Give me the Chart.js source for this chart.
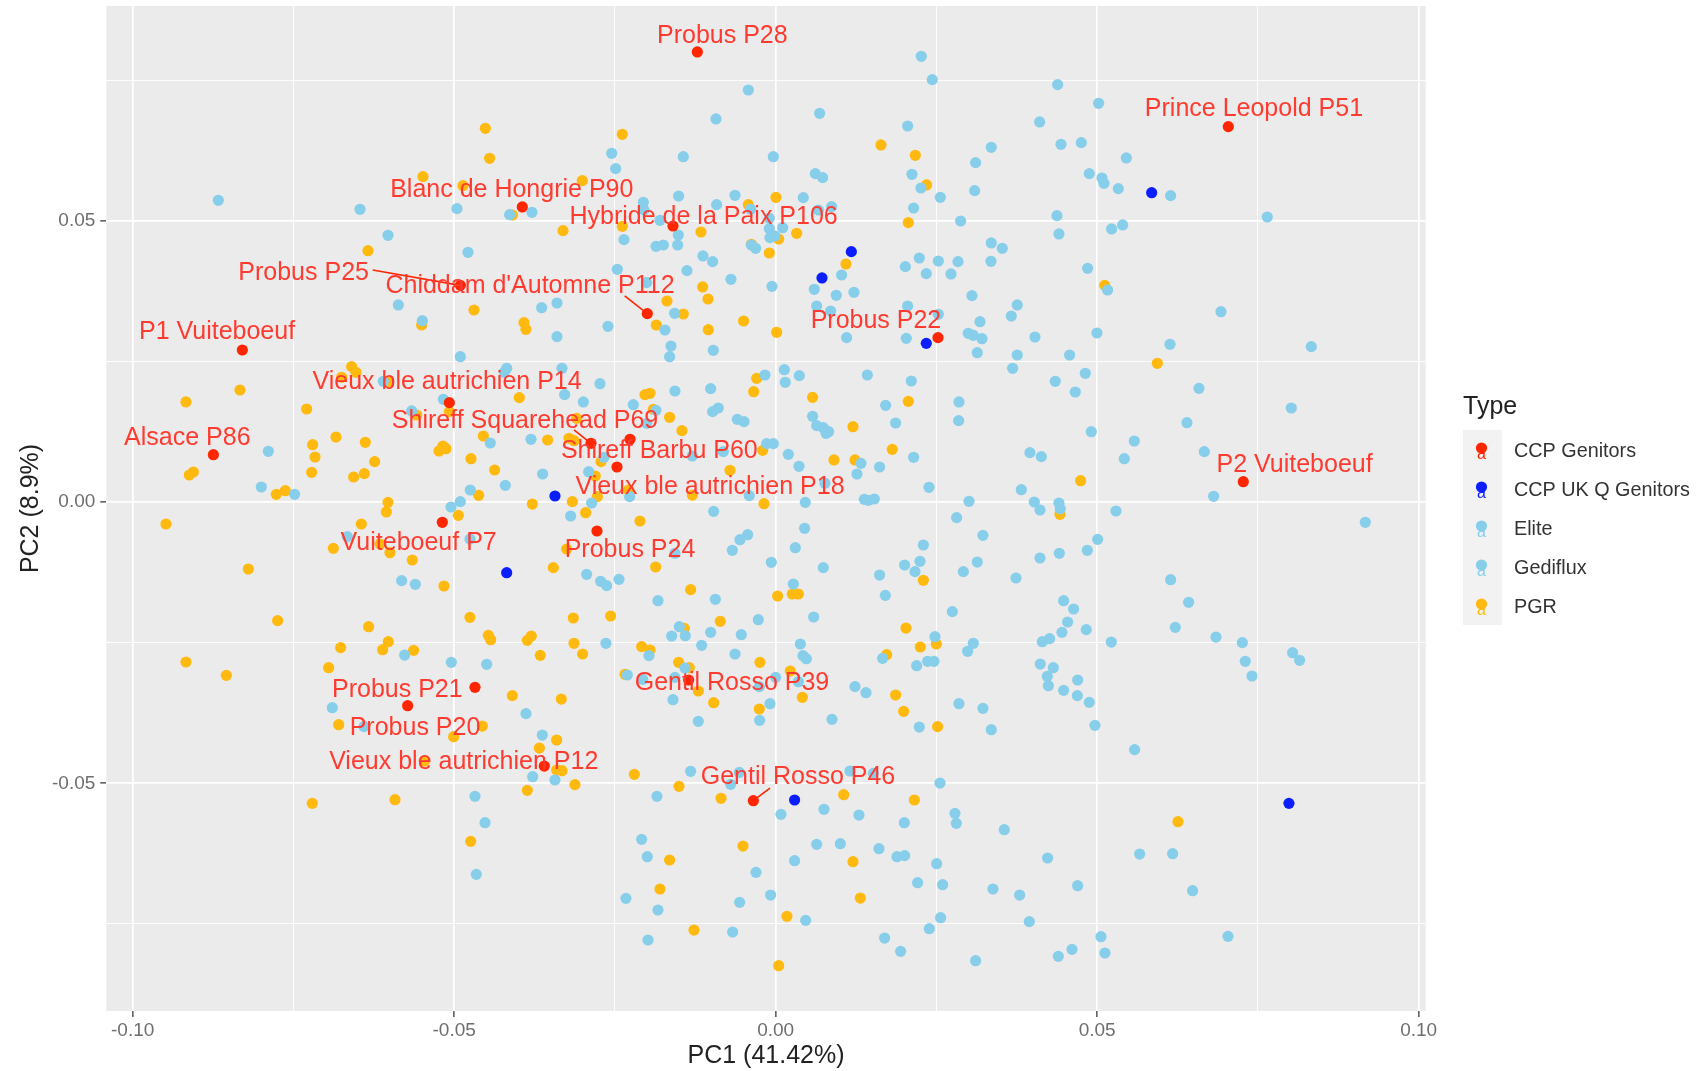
<!DOCTYPE html>
<html>
<head>
<meta charset="utf-8">
<title>PCA</title>
<script src="https://cdn.jsdelivr.net/npm/chart.js@4"></script>
<style>
    html, body { margin: 0; padding: 0; background: #ffffff; }
    canvas { display: block; filter: blur(0.55px); }
</style>
</head>
<body>
<canvas id="pca_chart" width="1699" height="1071"></canvas>
<script>
"use strict";

/* values, [PC1, PC2] */
const ccp_genitors = [
    [-0.01218,0.07999],[0.0704,0.06672],[-0.0394,0.05244],[-0.01597,0.04906],[-0.04904,0.03851],[-0.01996,0.03348],
    [0.02525,0.02921],[-0.08294,0.02702],[-0.05075,0.01766],[-0.02872,0.01043],[-0.02265,0.01114],[-0.02468,0.00622],
    [-0.08745,0.00841],[0.07273,0.00361],[-0.05184,-0.00361],[-0.02779,-0.00515],[-0.04676,-0.03294],[-0.01353,-0.03164],
    [-0.05723,-0.0362],[-0.03598,-0.04693],[-0.00347,-0.05309]
];

const ccp_uk_q_genitors = [
    [0.01177,0.0445],[0.00721,0.03982],[0.02343,0.0282],[0.05848,0.05498],
    [-0.04183,-0.01256],[-0.03432,0.00107],[0.00295,-0.05297],[0.07983,-0.05356]
];

const elite = [
    [-0.08668,0.05362],[-0.06464,0.05202],[-0.04956,0.05214],[-0.04137,0.05107],[-0.0379,0.05149],[-0.06029,0.0474],
    [-0.04785,0.04438],[-0.05868,0.03502],[-0.05495,0.03223],[-0.03639,0.03454],
    [0.02265,0.07922],[0.02436,0.07507],[-0.00425,0.07323],[-0.00928,0.06808],[0.00684,0.06909],[0.02053,0.06683],
    [0.03354,0.06304],[-0.0255,0.06198],[-0.02488,0.05925],[-0.01436,0.06138],[-0.00036,0.06138],[0.0311,0.06032],
    [0.00617,0.05836],[0.00731,0.05765],[0.0212,0.05824],[0.0226,0.05581],[0.03095,0.05534],[-0.01509,0.05439],
    [-0.00632,0.05451],[0.0043,0.0541],[0.02561,0.05415],[-0.02058,0.05327],[-0.00918,0.05285],[0.00871,0.0525],
    [-0.00389,0.05202],[0.02146,0.05226],[0.00664,0.0519],[-0.02048,0.0519],[-0.00098,0.05042],[-0.01799,0.05007],
    [0.02877,0.04995],[-0.00098,0.04859],[0.00109,0.04876],[-0.01514,0.04746],[-0.00088,0.04699],[-0.0001,0.04728],
    [-0.02359,0.04663],[-0.01861,0.04544],[-0.01747,0.04568],[-0.01524,0.04568],[-0.00378,0.04568],[-0.00311,0.04509],
    [0.03354,0.04604],[-0.0113,0.04373],[-0.0098,0.04272],[0.02017,0.04183],[0.02234,0.04337],[0.0253,0.04284],
    [0.02836,0.04272],[0.03349,0.04278],[-0.02462,0.04136],[-0.01379,0.04112],[0.02343,0.04059],[0.02727,0.04053],
    [0.01026,0.04035],[-0.00695,0.03958],[-0.02006,0.03899],[-0.00057,0.03833],[0.00601,0.0378],[0.01218,0.03727],
    [0.00943,0.03674],[0.03053,0.03668],[0.00638,0.03484],[0.02053,0.03484],[-0.03401,0.03537],[0.00855,0.03395],
    [-0.01571,0.03354],[0.0253,0.03336],[0.03178,0.03205],[-0.02608,0.03122],[-0.01721,0.03057],[0.02996,0.02998],
    [0.03074,0.02963],[0.03209,0.02903],[-0.03401,0.02939],[0.01104,0.02921],[0.02032,0.02909],
    [0.04386,0.07418],[0.05023,0.07086],[0.04106,0.06755],[0.04438,0.06358],[0.04754,0.06387],[0.05454,0.06115],
    [0.04878,0.05836],[0.05075,0.05759],[0.05106,0.05664],[0.05329,0.0557],[0.06143,0.05445],[0.07646,0.05066],
    [0.04375,0.0509],[0.04406,0.04764],[0.05225,0.04853],[0.05397,0.04924],[0.03525,0.04509],[0.04852,0.04153],
    [0.05163,0.03768],[0.03758,0.03502],[0.03665,0.03306],[0.04033,0.02933],[0.04997,0.03004],[0.06926,0.03383],
    [0.06133,0.02803],[0.08331,0.02761],
    [-0.04904,0.02583],[-0.04183,0.02376],[-0.0422,0.02305],[-0.06102,0.02145],[-0.05168,0.01825],[-0.05661,0.01618],
    [-0.03805,0.01114],[-0.04438,0.01049],[-0.0789,0.00901],[-0.03624,0.00498],[-0.04204,0.00296],[-0.04749,0.00213],
    [-0.07999,0.00267],[-0.07481,0.00136],[-0.04904,0.00006],[-0.05049,-0.00089],[-0.06661,-0.00616],[-0.04754,-0.00658],
    [-0.05816,-0.01398],[-0.05604,-0.01463],[-0.0577,-0.0272],[-0.05044,-0.0285],[-0.04494,-0.02885],
    [-0.01628,0.02773],[-0.01649,0.02583],[-0.00969,0.02696],[0.03136,0.02654],[-0.03323,0.02376],[0.00135,0.02352],
    [-0.00166,0.02257],[0.00368,0.02246],[0.01426,0.02257],[0.0015,0.02127],[0.0211,0.02151],[-0.02732,0.02103],
    [-0.01011,0.02015],[-0.01566,0.01973],[-0.03281,0.01908],[-0.02991,0.01778],[0.02851,0.01778],[-0.02214,0.0173],
    [0.01711,0.01718],[-0.00892,0.01671],[-0.0098,0.01606],[-0.01861,0.01629],[0.00575,0.01523],[0.02846,0.01446],
    [-0.00596,0.01469],[-0.00492,0.01428],[0.01866,0.01404],[-0.02006,0.01398],[0.00638,0.01357],[0.00741,0.01321],
    [0.00824,0.0125],[0.00783,0.01221],[-0.0014,0.01037],[-0.00036,0.01037],[0.00197,0.00847],[-0.00814,0.00895],
    [-0.01296,0.00818],[-0.0267,0.00794],[0.02146,0.00794],[0.01327,0.00687],[0.01617,0.00622],[0.00363,0.00634],
    [-0.02908,0.00539],[0.01265,0.00498],[0.00767,0.00332],[0.02385,0.00261],[-0.02271,0.00095],[-0.0041,0.00113],
    [0.01379,0.00047],[0.01441,0.0003],[0.01534,0.00053],[0.03007,0.00012],[0.00461,-0.00006],[-0.02862,-0.00018],
    [-0.00964,-0.00166],[-0.03188,-0.00249],[0.02815,-0.00278],[0.00451,-0.00468],[-0.00435,-0.00581],[-0.00555,-0.0067],
    [0.03224,-0.00593],[0.02297,-0.00764],[0.00306,-0.00812],[-0.00674,-0.00859],[-0.01566,-0.00912],[0.02245,-0.01055],
    [-0.00067,-0.01072],[0.02006,-0.0112],[0.03136,-0.01067],[0.00741,-0.01167],[0.02167,-0.01238],[0.02919,-0.01238],
    [0.01617,-0.01298],[-0.02939,-0.01286],[-0.02722,-0.0141],[-0.02628,-0.01487],[-0.02436,-0.01375],[0.00275,-0.01458],
    [0.01706,-0.01659],[-0.0183,-0.01754],[-0.00938,-0.0173],[0.02748,-0.01949],[0.00591,-0.02044],[-0.0027,-0.02092],
    [-0.01498,-0.02216],[-0.01011,-0.02317],[-0.00534,-0.02358],[-0.01617,-0.02382],[-0.01405,-0.02376],[0.02478,-0.02394],
    [-0.02639,-0.02512],[0.03074,-0.02512],[0.00384,-0.02524],[-0.01151,-0.02548],[0.02986,-0.02654],[-0.00632,-0.02702],
    [-0.0197,-0.02731],[0.00425,-0.02731],[0.00477,-0.02785],[0.01664,-0.02779],[0.02364,-0.02832],[0.02462,-0.02832],
    [0.02193,-0.02909],[-0.0141,-0.02951],[-0.02307,-0.03075],[0,-0.03117],[-0.01566,-0.03117],[-0.02068,-0.03152],
    [0.00353,-0.03194],[-0.00254,-0.03282]
];

const gediflux = [
    [0.03758,0.02613],[0.04572,0.02613],[0.03686,0.02376],[0.04816,0.02287],[0.04349,0.02145],[0.06584,0.0202],
    [0.0466,0.01955],[0.0802,0.01671],[0.06397,0.0141],[0.04909,0.0125],[0.05578,0.01084],[0.06667,0.00895],
    [0.03955,0.00877],[0.04132,0.00806],[0.05422,0.0077],[0.03821,0.00219],[0.06812,0.00101],[0.04023,0],
    [0.04406,-0.00018],[0.04427,-0.00119],[0.04111,-0.00142],[0.05293,-0.0016],[0.09171,-0.00361],[0.05008,-0.00664],
    [0.04847,-0.00859],[0.04412,-0.00912],[0.04111,-0.00995],[0.03738,-0.01351],[0.06143,-0.01381],[0.04479,-0.01754],
    [0.06423,-0.01783],[0.04634,-0.01902],[0.04541,-0.02133],[0.06216,-0.02228],[0.04831,-0.02269],[0.04453,-0.02317],
    [0.06848,-0.024],[0.04261,-0.02429],[0.04147,-0.02483],[0.0522,-0.02489],[0.07258,-0.025],[0.0804,-0.02678],
    [0.08149,-0.02814],[0.07304,-0.02832],[0.04116,-0.0288],[0.04318,-0.02945],[0.04225,-0.03099],[0.04697,-0.03164],
    [0.07408,-0.03093],[0.04241,-0.03265],[0.04479,-0.03348],
    [0.04692,-0.03442],[0.04878,-0.03561],[0.04966,-0.0397],[0.05583,-0.04402],[0.03556,-0.05824],[0.0423,-0.06328],
    [0.05661,-0.06257],[0.06174,-0.06251],[0.04697,-0.0682],[0.03795,-0.06986],[0.06485,-0.06909],[0.03945,-0.07459],
    [0.0506,-0.07726],[0.07035,-0.0772],[0.04609,-0.07951],[0.04396,-0.08076],[0.05122,-0.08016],
    [-0.06895,-0.03656],[-0.03883,-0.03762],[-0.06402,-0.03993],[-0.03629,-0.04142],[-0.03779,-0.04882],[-0.04676,-0.05232],
    [-0.0452,-0.057],[-0.04655,-0.06618],
    [0.01234,-0.03282],[0.01405,-0.03389],[-0.01597,-0.03514],[-0.00088,-0.03585],[0.02851,-0.03585],[0.03224,-0.03668],
    [-0.01203,-0.03899],[-0.00249,-0.03881],[0.00876,-0.03863],[0.02234,-0.04],[0.03354,-0.04047],[-0.01322,-0.04787],
    [-0.00565,-0.04805],[0.01156,-0.04781],[0.01519,-0.04823],[-0.03432,-0.04941],[-0.007,-0.05018],[0.02556,-0.04995],
    [-0.01846,-0.05232],[0.00752,-0.05463],[0.00083,-0.05552],[0.01296,-0.05564],[0.02789,-0.05534],[0.02001,-0.057],
    [0.0281,-0.05712],[-0.02084,-0.05996],[0.00638,-0.06085],[0.01006,-0.06073],[0.01607,-0.06162],[-0.01996,-0.06304],
    [0.01887,-0.06304],[0.02006,-0.06286],[0.00295,-0.06375],[0.02504,-0.06429],[-0.00306,-0.06583],[0.02208,-0.06766],
    [0.02597,-0.06802],[0.0338,-0.06879],[-0.00078,-0.06986],[-0.02328,-0.07045],[-0.0056,-0.07116],[-0.0183,-0.07252],
    [0.00467,-0.07436],[0.02566,-0.07389],[0.0239,-0.07584],[-0.00669,-0.07643],[-0.01985,-0.07785],[0.01695,-0.0775],
    [0.01944,-0.07987],[0.0311,-0.08153]
];

const pgr = [
    [-0.04515,0.06642],[-0.04448,0.06109],[-0.05485,0.05783],[-0.04863,0.05623],[-0.04095,0.05101],[-0.0634,0.04467],
    [-0.04692,0.03413],[-0.05505,0.03146],[-0.03914,0.03188],[-0.03883,0.03069],
    [-0.02385,0.06535],[-0.03007,0.05712],[-0.03307,0.04823],[-0.02385,0.049],[-0.00425,0.05285],[0.00005,0.05415],
    [-0.01161,0.04799],[0.00047,0.04675],[0.00327,0.04776],[-0.00098,0.04426],[-0.00378,0.0458],[0.01638,0.06346],
    [0.02172,0.06162],[0.02348,0.05635],[0.02063,0.04965],[0.01094,0.0423],[-0.01135,0.03822],[-0.01052,0.03608],
    [-0.0169,0.03573],[-0.01436,0.03342],[-0.01856,0.03146],[-0.01047,0.03063],[-0.00498,0.03217],[0.00016,0.03016],
    [0.05117,0.03851],
    [-0.06594,0.02406],[-0.06527,0.02305],[-0.0675,0.02216],[-0.08331,0.01991],[-0.09171,0.01778],[-0.07294,0.01653],
    [-0.06024,0.02139],[-0.03987,0.01855],[-0.05583,0.01546],[-0.05075,0.01606],[-0.06838,0.01155],[-0.06382,0.01061],
    [-0.07201,0.01019],[-0.07164,0.008],[-0.06236,0.00717],[-0.04546,0.01173],[-0.05174,0.00995],[-0.05127,0.00948],
    [-0.05236,0.00907],[-0.04738,0.0077],[-0.0437,0.00569],[-0.03546,0.01102],[-0.07216,0.00527],[-0.06397,0.00504],
    [-0.06563,0.00444],[-0.09056,0.00533],[-0.09119,0.0048],[-0.07626,0.00201],[-0.07766,0.00136],[-0.04619,0.00119],
    [-0.06029,-0.00006],[-0.06055,-0.00178],[-0.03784,-0.00036],[-0.04935,-0.00237],[-0.09482,-0.00391],[-0.06444,-0.00391],
    [-0.06879,-0.00824],[-0.06153,-0.00747],[-0.05998,-0.00901],[-0.05651,-0.01031],[-0.03458,-0.01167],[-0.08201,-0.01191],
    [-0.05158,-0.01493],[-0.07745,-0.02109],[-0.04754,-0.0205],[-0.0633,-0.02216],[-0.04469,-0.0237],[-0.04432,-0.02447],
    [-0.038,-0.02382],[-0.03862,-0.02459],[-0.06024,-0.02483],[-0.06765,-0.02589],[-0.06112,-0.02625],[-0.0563,-0.02637],
    [-0.0366,-0.02726],[-0.09171,-0.02844],[-0.08543,-0.03081],[-0.06952,-0.02945],
    [-0.00295,0.02198],[-0.00342,0.01961],[0.00575,0.0186],[0.02063,0.01789],[-0.01954,0.01932],[-0.02032,0.01908],
    [-0.01903,0.01647],[-0.01649,0.01505],[0.01203,0.01339],[-0.01457,0.01268],[-0.03095,0.01487],[-0.03214,0.01132],
    [-0.03136,0.0109],[0.01814,0.00936],[-0.00202,0.00918],[0.00907,0.00747],[0.01234,0.00747],[-0.02716,0.00717],
    [-0.0071,0.00563],[-0.02805,0.00462],[-0.02286,0.00213],[-0.01296,0.00124],[-0.02773,0.00095],[-0.03162,0.00006],
    [-0.00181,-0.0003],[-0.02955,-0.0019],[-0.0211,-0.00338],[-0.0325,-0.00835],[-0.01866,-0.01155],[-0.01322,-0.01558],
    [0.00031,-0.01671],[0.00259,-0.01635],[0.00353,-0.01635],[0.02297,-0.01392],[-0.02566,-0.02026],[-0.03147,-0.02062],
    [-0.00861,-0.02121],[-0.0142,-0.02246],[0.02027,-0.0224],[-0.03136,-0.02512],[0.0225,-0.02577],[0.02499,-0.02524],
    [-0.02084,-0.02571],[-0.01954,-0.02631],[-0.03002,-0.02702],[0.01726,-0.02714],[-0.00244,-0.0285],[-0.01509,-0.0285],
    [-0.01343,-0.02945],[-0.02343,-0.03063],[0.00228,-0.03004],
    [0.05936,0.02465],[0.04743,0.00379],[0.04422,-0.00219],[0.06257,-0.05682],
    [-0.04095,-0.03442],[-0.06796,-0.03958],[-0.04562,-0.03982],[-0.05008,-0.04171],[-0.03675,-0.04373],[-0.05464,-0.04604],
    [-0.03862,-0.05125],[-0.07206,-0.05356],[-0.0592,-0.05291],[-0.04743,-0.06032],
    [-0.03333,-0.03502],[-0.01203,-0.03359],[-0.00964,-0.03567],[0.00415,-0.03472],[-0.00254,-0.03679],[0.01866,-0.03431],
    [0.01991,-0.03721],[0.02519,-0.03993],[-0.03406,-0.0423],[-0.03406,-0.04764],[-0.03323,-0.04776],[-0.02198,-0.04841],
    [-0.03121,-0.05024],[-0.01503,-0.05054],[-0.0085,-0.05267],[0.01058,-0.05202],[0.02157,-0.05297],[-0.00508,-0.06115],
    [-0.01649,-0.06363],[0.01203,-0.06393],[-0.01799,-0.06879],[0.01317,-0.07039],[0.00176,-0.07365],[-0.0127,-0.07608],
    [0.00047,-0.08242]
];

/* text labels, placed by their centre in PC1 / PC2 */
const label_names = [
    "Probus P28", "Prince Leopold P51", "Blanc de Hongrie P90", "Hybride de la Paix P106", "Probus P25",
    "Chiddam d'Automne P112", "P1 Vuiteboeuf", "Probus P22", "Vieux ble autrichien P14", "Shireff Squarehead P69",
    "Shireff Barbu P60", "Alsace P86", "P2 Vuiteboeuf", "Vieux ble autrichien P18", "Vuiteboeuf P7",
    "Probus P24", "Probus P21", "Gentil Rosso P39", "Probus P20", "Vieux ble autrichien P12", "Gentil Rosso P46"
];
const label_pc1 = [
    -0.00829, 0.07439, -0.04104, -0.0112, -0.07341, -0.0382, -0.08688, 0.0156, -0.0511, -0.03897, -0.01809,
    -0.0915, 0.08071, -0.01021, -0.05552, -0.02265, -0.05884, -0.00679, -0.05609, -0.04851, 0.00347
];
const label_pc2 = [
    0.08313, 0.07015, 0.05564, 0.05084, 0.04094, 0.03869, 0.03045, 0.03247, 0.02157, 0.01469, 0.00924,
    0.01161, 0.00687, 0.0029, -0.00699, -0.00824, -0.03312, -0.03194, -0.03993, -0.04598, -0.04864
];

/* repel segments from label to point */
const repel_segments = [
    [[-0.06267,0.04124],[-0.04904,0.03851]],
    [[-0.02348,0.03662],[-0.01996,0.03348]],
    [[-0.03136,0.0128],[-0.02872,0.01043]],
    [[-0.00088,-0.05084],[-0.00347,-0.05309]]
];

const x_ticks = [-0.1, -0.075, -0.05, -0.025, 0, 0.025, 0.05, 0.075, 0.1];
const y_ticks = [-0.075, -0.05, -0.025, 0, 0.025, 0.05, 0.075];

const type_names = ["CCP Genitors", "CCP UK Q Genitors", "Elite", "Gediflux", "PGR"];
const type_colours = ["#FF2600", "#0A1EFF", "#87CEEB", "#87CEEB", "#FFB90F"];

const font_family = "'Liberation Sans', Arial, sans-serif";

function is_major(value) {
    return Math.abs(value / 0.05 - Math.round(value / 0.05)) < 1e-6;
}

function to_points(list) {
    return list.map(p => ({x: p[0], y: p[1]}));
}

function points_dataset(name, list, colour, order) {
    return {
        label: name,
        data: to_points(list),
        backgroundColor: colour,
        borderColor: colour,
        pointRadius: 5.6,
        pointHoverRadius: 5.6,
        borderWidth: 0,
        order: order
    };
}

function axis_options(min, max, tick_values, title_text, title_padding, tick_padding) {
    return {
        type: "linear",
        min: min,
        max: max,
        afterBuildTicks: scale => { scale.ticks = tick_values.map(v => ({value: v})); },
        border: {display: false},
        grid: {
            color: "#FFFFFF",
            lineWidth: c => is_major(c.tick.value) ? 1.7 : 0.9,
            tickColor: c => is_major(c.tick.value) ? "#555555" : "rgba(0,0,0,0)",
            tickWidth: 1.5,
            tickLength: 6
        },
        ticks: {
            autoSkip: false,
            maxRotation: 0,
            padding: tick_padding,
            color: "#6E6E6E",
            font: {family: font_family, size: 19},
            callback: v => is_major(v) ? v.toFixed(2) : ""
        },
        title: {
            display: true,
            text: title_text,
            color: "#222222",
            padding: title_padding,
            font: {family: font_family, size: 25}
        }
    };
}

const panel_background = {
    id: "panel_background",
    beforeDraw: function (chart) {
        let a = chart.chartArea;
        chart.ctx.fillStyle = "#EBEBEB";
        chart.ctx.fillRect(a.left, a.top, a.right - a.left, a.bottom - a.top);
    }
};

const repel_labels = {
    id: "repel_labels",
    afterDatasetsDraw: function (chart) {
        let ctx = chart.ctx;
        ctx.save();
        ctx.font = "25px " + font_family;
        ctx.fillStyle = "#FF3B30";
        ctx.textAlign = "center";
        ctx.textBaseline = "middle";
        label_names.forEach((name, i) => {
            ctx.fillText(name, chart.scales.x.getPixelForValue(label_pc1[i]), chart.scales.y.getPixelForValue(label_pc2[i]) + 1.5);
        });
        ctx.restore();
    }
};

// ggplot style legend, the key keeps the little "a" from geom_text_repel
const type_legend = {
    id: "type_legend",
    afterDraw: function (chart) {
        let ctx = chart.ctx;
        ctx.save();
        ctx.fillStyle = "#F2F2F2";
        ctx.fillRect(1463, 430, 39, 195);
        ctx.textBaseline = "middle";
        ctx.fillStyle = "#222222";
        ctx.font = "25px " + font_family;
        ctx.fillText("Type", 1463, 407);
        type_names.forEach((name, i) => {
            let y = 449 + i * 39;
            ctx.fillStyle = type_colours[i];
            ctx.textAlign = "center";
            ctx.font = "16px " + font_family;
            ctx.fillText("a", 1481.5, y + 6);
            ctx.beginPath();
            ctx.arc(1481.5, y - 1, 5.6, 0, 2 * Math.PI);
            ctx.fill();
            ctx.textAlign = "left";
            ctx.fillStyle = "#333333";
            ctx.font = "19.8px " + font_family;
            ctx.fillText(name, 1514, y + 2.5);
        });
        ctx.restore();
    }
};

function create_pca_chart(canvas_id) {
    let datasets = [
        points_dataset(type_names[4], pgr, type_colours[4], 5),
        points_dataset(type_names[3], gediflux, type_colours[3], 4),
        points_dataset(type_names[2], elite, type_colours[2], 4),
        points_dataset(type_names[1], ccp_uk_q_genitors, type_colours[1], 3),
        points_dataset(type_names[0], ccp_genitors, type_colours[0], 2)
    ];
    repel_segments.forEach(s => {
        datasets.push({
            label: "segment",
            data: to_points(s),
            showLine: true,
            pointRadius: 0,
            borderColor: "#FF2600",
            borderWidth: 1.6,
            order: 1
        });
    });

    let x_axis = axis_options(-0.1041, 0.1011, x_ticks, "PC1 (41.42%)", {top: -2, bottom: 0}, 2);
    x_axis.afterFit = scale => { scale.height = 60; scale.paddingLeft = 0; scale.paddingRight = 0; };
    let y_axis = axis_options(-0.09047, 0.08816, y_ticks, "PC2 (8.9%)", {top: 16, bottom: 0}, 5);
    y_axis.afterFit = scale => { scale.width = 106.3; scale.paddingTop = 0; scale.paddingBottom = 0; };

    let ctx = document.getElementById(canvas_id).getContext("2d");
    return new Chart(ctx, {
        type: "scatter",
        data: {datasets: datasets},
        options: {
            responsive: false,
            animation: false,
            layout: {padding: {left: 0, top: 6, right: 273.3, bottom: 0}},
            plugins: {legend: {display: false}, tooltip: {enabled: false}},
            scales: {x: x_axis, y: y_axis}
        },
        plugins: [panel_background, repel_labels, type_legend]
    });
}

window.pca_chart = create_pca_chart("pca_chart");
</script>
</body>
</html>
